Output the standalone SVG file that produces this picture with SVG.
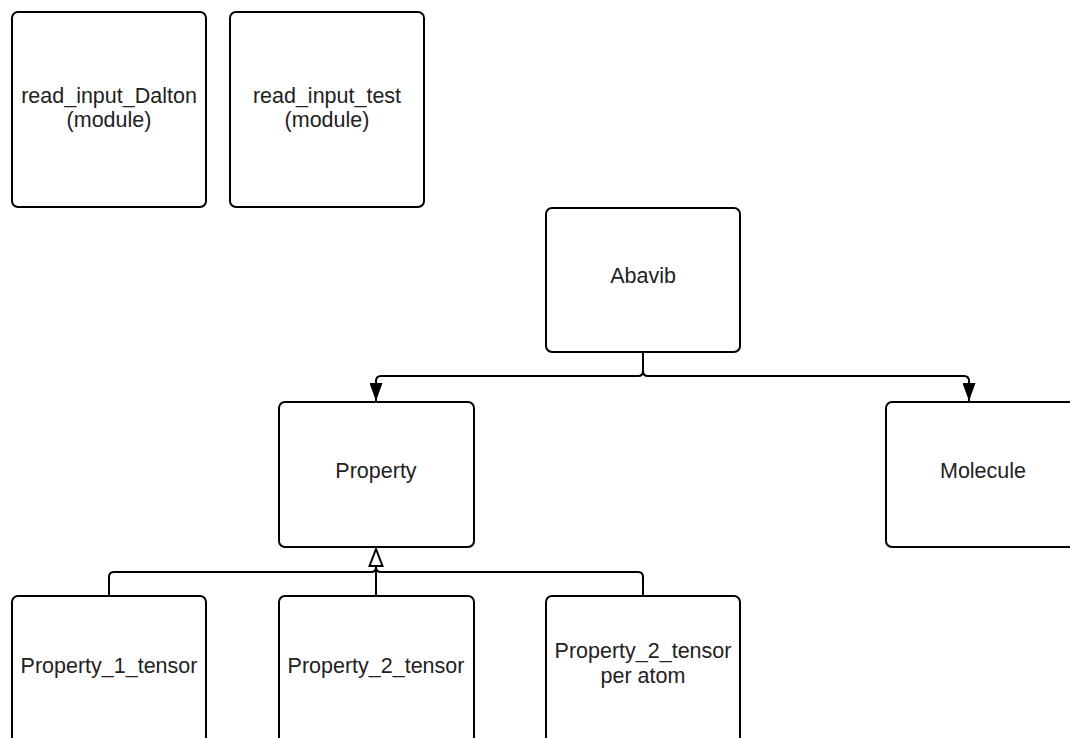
<svg xmlns="http://www.w3.org/2000/svg" width="1070" height="738" viewBox="0 0 1070 738">
<style>
.box{fill:#fff;stroke:#000;stroke-width:2}
.lbl{font-family:"Liberation Sans",Arial,sans-serif;font-size:21.5px;fill:#222;text-anchor:middle}
.con{fill:none;stroke:#000;stroke-width:2}
</style>
<defs>
<marker id="filled" markerUnits="userSpaceOnUse" viewBox="0 0 18 13" markerWidth="18" markerHeight="13" refX="18" refY="6.5" orient="auto">
<path d="M0,0 L18,6.5 L0,13 Z" fill="#000"/>
</marker>
<marker id="hollow" markerUnits="userSpaceOnUse" viewBox="-2 -2 22 17" markerWidth="22" markerHeight="17" refX="17" refY="6.5" orient="auto">
<path d="M0,0 L17,6.5 L0,13 Z" fill="#fff" stroke="#000" stroke-width="2"/>
</marker>
</defs>
<rect width="1070" height="738" fill="#fff"/>
<g id="connectors">
<path class="con" d="M643,352 V371 Q643,376 638,376 H381 Q376,376 376,381 V401" marker-end="url(#filled)"/>
<path class="con" d="M643,352 V371 Q643,376 648,376 H964 Q969,376 969,381 V401" marker-end="url(#filled)"/>
<path class="con" d="M376,596 V567"/>
<path class="con" d="M643,596 V577 Q643,572 638,572 H381 Q376,572 376,567"/>
<path class="con" d="M109,596 V577 Q109,572 114,572 H371 Q376,572 376,567 V549" marker-end="url(#hollow)"/>
</g>
<g id="read_input_Dalton">
<rect class="box" x="12" y="12" width="194" height="195" rx="6"/>
<text class="lbl" x="109" y="103">read_input_Dalton</text>
<text class="lbl" x="109" y="127">(module)</text>
</g>
<g id="read_input_test">
<rect class="box" x="230" y="12" width="194" height="195" rx="6"/>
<text class="lbl" x="327" y="103">read_input_test</text>
<text class="lbl" x="327" y="127">(module)</text>
</g>
<g id="Abavib">
<rect class="box" x="546" y="208" width="194" height="144" rx="6"/>
<text class="lbl" x="643" y="283">Abavib</text>
</g>
<g id="Property">
<rect class="box" x="279" y="402" width="195" height="145" rx="6"/>
<text class="lbl" x="376" y="478">Property</text>
</g>
<g id="Molecule">
<rect class="box" x="886" y="402" width="195" height="145" rx="6"/>
<text class="lbl" x="983" y="478">Molecule</text>
</g>
<g id="Property_1_tensor">
<rect class="box" x="12" y="596" width="194" height="150" rx="6"/>
<text class="lbl" x="109" y="673">Property_1_tensor</text>
</g>
<g id="Property_2_tensor">
<rect class="box" x="279" y="596" width="195" height="150" rx="6"/>
<text class="lbl" x="376" y="673">Property_2_tensor</text>
</g>
<g id="Property_2_tensor_per_atom">
<rect class="box" x="546" y="596" width="194" height="150" rx="6"/>
<text class="lbl" x="643" y="658">Property_2_tensor</text>
<text class="lbl" x="643" y="683">per atom</text>
</g>
</svg>
